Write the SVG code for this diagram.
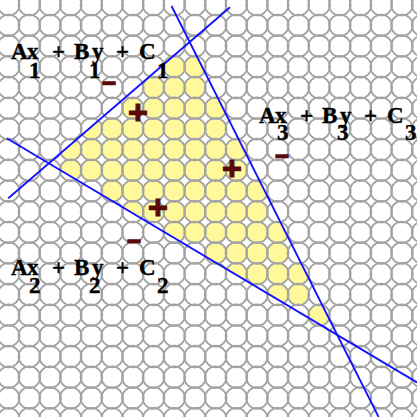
<svg xmlns="http://www.w3.org/2000/svg" width="417" height="417" viewBox="0 0 417 417">
<style>
.g{fill:none;stroke:#a3a3a3;stroke-width:1.8}
.yl circle{fill:#fff99c;stroke:none}
.ln{stroke:#1010ff;stroke-width:1.8;fill:none}
.lab{font-family:"Liberation Serif","Times New Roman",serif;font-weight:bold;font-size:23px;fill:#000;stroke:#000;stroke-width:0.4}
.sg{font-family:"Liberation Sans",Arial,sans-serif;font-weight:bold;fill:#5a0a0a;stroke:#5a0a0a;text-anchor:middle;dominant-baseline:central}
.pl{font-size:34px;stroke-width:1.2}
.mi{font-size:24px;stroke-width:1.4}
</style>
<defs>
<g id="row">
<circle cx="8.65" cy="0" r="10.8"/><circle cx="29.35" cy="0" r="10.8"/><circle cx="50.05" cy="0" r="10.8"/><circle cx="70.75" cy="0" r="10.8"/><circle cx="91.45" cy="0" r="10.8"/><circle cx="112.15" cy="0" r="10.8"/><circle cx="132.85" cy="0" r="10.8"/><circle cx="153.55" cy="0" r="10.8"/><circle cx="174.25" cy="0" r="10.8"/><circle cx="194.95" cy="0" r="10.8"/><circle cx="215.65" cy="0" r="10.8"/><circle cx="236.35" cy="0" r="10.8"/><circle cx="257.05" cy="0" r="10.8"/><circle cx="277.75" cy="0" r="10.8"/><circle cx="298.45" cy="0" r="10.8"/><circle cx="319.15" cy="0" r="10.8"/><circle cx="339.85" cy="0" r="10.8"/><circle cx="360.55" cy="0" r="10.8"/><circle cx="381.25" cy="0" r="10.8"/><circle cx="401.95" cy="0" r="10.8"/><circle cx="422.65" cy="0" r="10.8"/>
</g>
<clipPath id="tri"><polygon points="48.84,163.4 189.7,42.0 337.8,335.3"/></clipPath>
</defs>
<rect width="417" height="417" fill="#fff"/>
<g id="region" class="yl" clip-path="url(#tri)">
<circle cx="174.25" cy="66.75" r="10.8"/><circle cx="194.95" cy="66.75" r="10.8"/>
<circle cx="153.55" cy="87.45" r="10.8"/><circle cx="174.25" cy="87.45" r="10.8"/><circle cx="194.95" cy="87.45" r="10.8"/>
<circle cx="132.85" cy="108.15" r="10.8"/><circle cx="153.55" cy="108.15" r="10.8"/><circle cx="174.25" cy="108.15" r="10.8"/><circle cx="194.95" cy="108.15" r="10.8"/><circle cx="215.65" cy="108.15" r="10.8"/>
<circle cx="91.45" cy="128.85" r="10.8"/><circle cx="112.15" cy="128.85" r="10.8"/><circle cx="132.85" cy="128.85" r="10.8"/><circle cx="153.55" cy="128.85" r="10.8"/><circle cx="174.25" cy="128.85" r="10.8"/><circle cx="194.95" cy="128.85" r="10.8"/><circle cx="215.65" cy="128.85" r="10.8"/>
<circle cx="70.75" cy="149.55" r="10.8"/><circle cx="91.45" cy="149.55" r="10.8"/><circle cx="112.15" cy="149.55" r="10.8"/><circle cx="132.85" cy="149.55" r="10.8"/><circle cx="153.55" cy="149.55" r="10.8"/><circle cx="174.25" cy="149.55" r="10.8"/><circle cx="194.95" cy="149.55" r="10.8"/><circle cx="215.65" cy="149.55" r="10.8"/><circle cx="236.35" cy="149.55" r="10.8"/>
<circle cx="70.75" cy="170.25" r="10.8"/><circle cx="91.45" cy="170.25" r="10.8"/><circle cx="112.15" cy="170.25" r="10.8"/><circle cx="132.85" cy="170.25" r="10.8"/><circle cx="153.55" cy="170.25" r="10.8"/><circle cx="174.25" cy="170.25" r="10.8"/><circle cx="194.95" cy="170.25" r="10.8"/><circle cx="215.65" cy="170.25" r="10.8"/><circle cx="236.35" cy="170.25" r="10.8"/>
<circle cx="112.15" cy="190.95" r="10.8"/><circle cx="132.85" cy="190.95" r="10.8"/><circle cx="153.55" cy="190.95" r="10.8"/><circle cx="174.25" cy="190.95" r="10.8"/><circle cx="194.95" cy="190.95" r="10.8"/><circle cx="215.65" cy="190.95" r="10.8"/><circle cx="236.35" cy="190.95" r="10.8"/><circle cx="257.05" cy="190.95" r="10.8"/>
<circle cx="132.85" cy="211.65" r="10.8"/><circle cx="153.55" cy="211.65" r="10.8"/><circle cx="174.25" cy="211.65" r="10.8"/><circle cx="194.95" cy="211.65" r="10.8"/><circle cx="215.65" cy="211.65" r="10.8"/><circle cx="236.35" cy="211.65" r="10.8"/><circle cx="257.05" cy="211.65" r="10.8"/>
<circle cx="174.25" cy="232.35" r="10.8"/><circle cx="194.95" cy="232.35" r="10.8"/><circle cx="215.65" cy="232.35" r="10.8"/><circle cx="236.35" cy="232.35" r="10.8"/><circle cx="257.05" cy="232.35" r="10.8"/><circle cx="277.75" cy="232.35" r="10.8"/>
<circle cx="215.65" cy="253.05" r="10.8"/><circle cx="236.35" cy="253.05" r="10.8"/><circle cx="257.05" cy="253.05" r="10.8"/><circle cx="277.75" cy="253.05" r="10.8"/>
<circle cx="236.35" cy="273.75" r="10.8"/><circle cx="257.05" cy="273.75" r="10.8"/><circle cx="277.75" cy="273.75" r="10.8"/><circle cx="298.45" cy="273.75" r="10.8"/>
<circle cx="277.75" cy="294.45" r="10.8"/><circle cx="298.45" cy="294.45" r="10.8"/>
<circle cx="319.15" cy="315.15" r="10.8"/>
</g>
<g id="grid" class="g">
<use href="#row" y="4.65"/><use href="#row" y="25.35"/><use href="#row" y="46.05"/><use href="#row" y="66.75"/><use href="#row" y="87.45"/><use href="#row" y="108.15"/><use href="#row" y="128.85"/><use href="#row" y="149.55"/><use href="#row" y="170.25"/><use href="#row" y="190.95"/><use href="#row" y="211.65"/><use href="#row" y="232.35"/><use href="#row" y="253.05"/><use href="#row" y="273.75"/><use href="#row" y="294.45"/><use href="#row" y="315.15"/><use href="#row" y="335.85"/><use href="#row" y="356.55"/><use href="#row" y="377.25"/><use href="#row" y="397.95"/><use href="#row" y="418.65"/>
</g>
<g id="connectors">
<line id="line1" class="ln" x1="8.3" y1="198.3" x2="230" y2="7.3"/>
<line id="line2" class="ln" x1="6.7" y1="138.3" x2="417" y2="382.4"/>
<line id="line3" class="ln" x1="171.5" y1="6" x2="378.6" y2="417"/>
</g>
<g id="label1" class="lab">
<text y="59"><tspan x="11">A</tspan><tspan x="27">x</tspan><tspan x="52">+</tspan><tspan x="74">B</tspan><tspan x="92">y</tspan><tspan x="116">+</tspan><tspan x="139">C</tspan></text>
<text y="78"><tspan x="29">1</tspan><tspan x="89">1</tspan><tspan x="157">1</tspan></text>
</g>
<g id="label2" class="lab">
<text y="275"><tspan x="11">A</tspan><tspan x="27">x</tspan><tspan x="52">+</tspan><tspan x="74">B</tspan><tspan x="92">y</tspan><tspan x="116">+</tspan><tspan x="139">C</tspan></text>
<text y="293"><tspan x="29">2</tspan><tspan x="89">2</tspan><tspan x="157">2</tspan></text>
</g>
<g id="label3" class="lab">
<text y="123"><tspan x="259">A</tspan><tspan x="275">x</tspan><tspan x="300">+</tspan><tspan x="322">B</tspan><tspan x="340">y</tspan><tspan x="364">+</tspan><tspan x="387">C</tspan></text>
<text y="140"><tspan x="277">3</tspan><tspan x="337">3</tspan><tspan x="405">3</tspan></text>
</g>
<g id="signs">
<text class="sg pl" x="138" y="112">+</text>
<text class="sg pl" x="232" y="168">+</text>
<text class="sg pl" x="158" y="207">+</text>
<text class="sg mi" x="109" y="82">−</text>
<text class="sg mi" x="134" y="240">−</text>
<text class="sg mi" x="282" y="155">−</text>
</g>
</svg>
